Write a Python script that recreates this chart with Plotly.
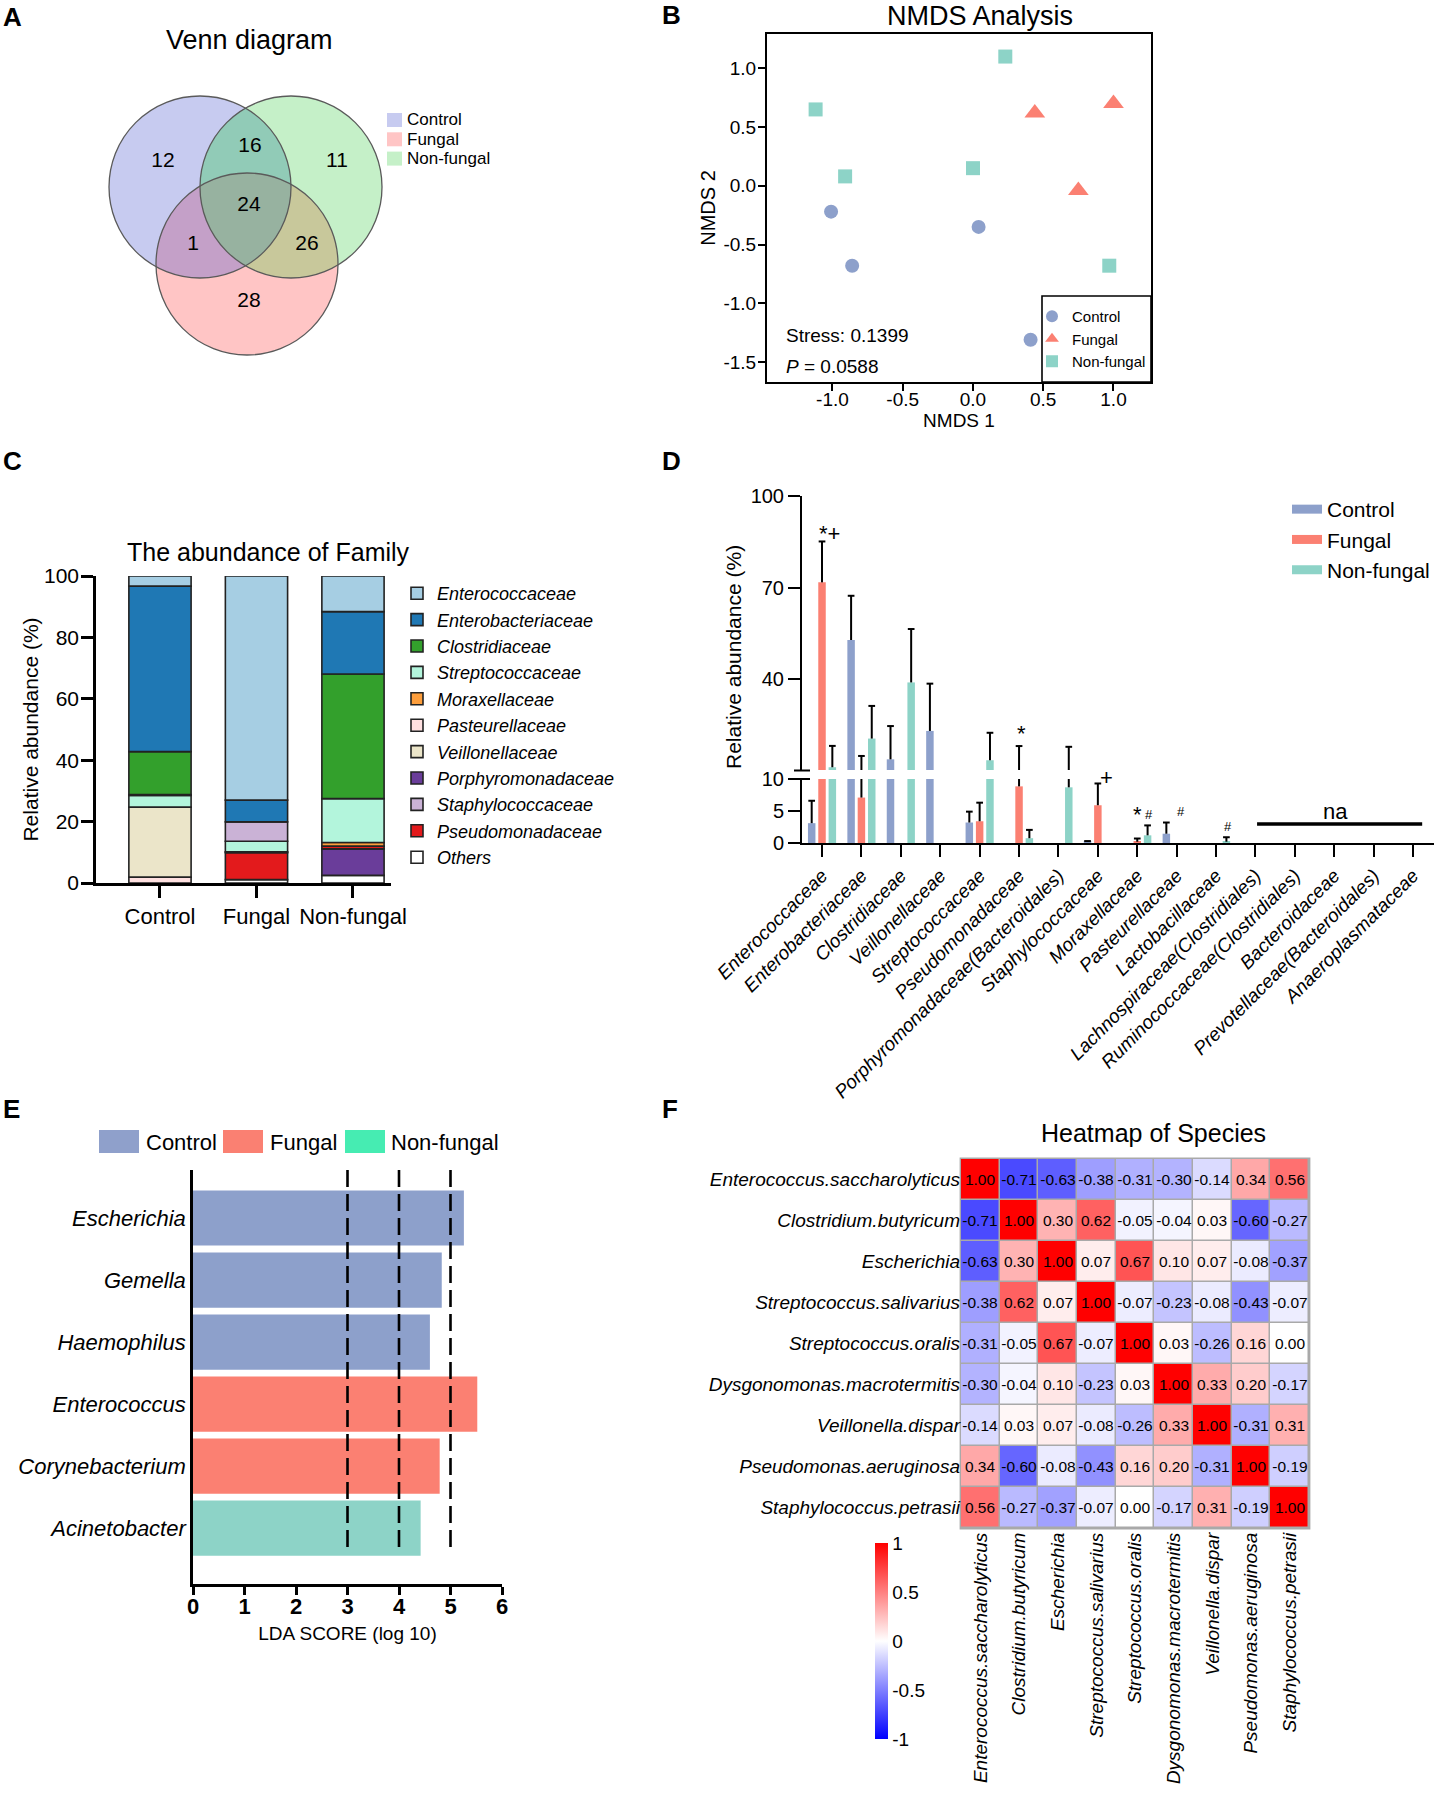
import numpy as np
import plotly.graph_objects as go

W, H = 1436, 1799
FONT = "Liberation Sans, Arial, Helvetica, sans-serif"


def px_x(x):
    return x / W


def px_y(y):
    return 1 - y / H


def dom_x(a, b):
    return [a / W, b / W]


def dom_y(top, bottom):
    return [1 - bottom / H, 1 - top / H]


# ======================= DATA =======================
# A  Venn diagram
venn_sets = ["Control", "Fungal", "Non-fungal"]
venn_region_keys = ["C", "CN", "N", "CNF", "CF", "NF", "F"]
venn_region_counts = [12, 16, 11, 24, 1, 26, 28]

# B  NMDS
nmds_control_x = [-1.01, -0.86, 0.04, 0.41]
nmds_control_y = [-0.22, -0.68, -0.35, -1.31]
nmds_fungal_x = [0.44, 1.00, 0.75]
nmds_fungal_y = [0.62, 0.70, -0.04]
nmds_nonfungal_x = [0.23, -1.12, -0.91, 0.00, 0.97]
nmds_nonfungal_y = [1.10, 0.65, 0.08, 0.15, -0.68]
nmds_xticks = [-1.0, -0.5, 0.0, 0.5, 1.0]
nmds_xtick_labels = ["-1.0", "-0.5", "0.0", "0.5", "1.0"]
nmds_yticks = [-1.5, -1.0, -0.5, 0.0, 0.5, 1.0]
nmds_ytick_labels = ["-1.5", "-1.0", "-0.5", "0.0", "0.5", "1.0"]
nmds_stress = "0.1399"
nmds_p = "0.0588"

# C  stacked family abundance (%)
c_groups = ["Control", "Fungal", "Non-fungal"]
c_families = ["Enterococcaceae", "Enterobacteriaceae", "Clostridiaceae", "Streptococcaceae",
              "Moraxellaceae", "Pasteurellaceae", "Veillonellaceae", "Porphyromonadaceae",
              "Staphylococcaceae", "Pseudomonadaceae", "Others"]
c_enterococcaceae = [3.3, 73.0, 11.6]
c_enterobacteriaceae = [53.9, 7.1, 20.3]
c_clostridiaceae = [14.0, 0.0, 40.6]
c_streptococcaceae = [3.8, 3.4, 14.3]
c_moraxellaceae = [0.0, 0.3, 1.2]
c_pasteurellaceae = [1.9, 0.0, 0.0]
c_veillonellaceae = [22.8, 0.0, 0.0]
c_porphyromonadaceae = [0.0, 0.0, 8.6]
c_staphylococcaceae = [0.3, 6.3, 0.0]
c_pseudomonadaceae = [0.0, 8.8, 0.9]
c_others = [0.0, 1.1, 2.5]
c_stack_order = ["Others", "Porphyromonadaceae", "Pseudomonadaceae", "Pasteurellaceae",
                 "Veillonellaceae", "Moraxellaceae", "Streptococcaceae", "Staphylococcaceae",
                 "Clostridiaceae", "Enterobacteriaceae", "Enterococcaceae"]
c_yticks = [0, 20, 40, 60, 80, 100]

# D  relative abundance per family (mean, SD)
d_families = ["Enterococcaceae", "Enterobacteriaceae", "Clostridiaceae", "Veillonellaceae",
              "Streptococcaceae", "Pseudomonadaceae", "Porphyromonadaceae(Bacteroidales)",
              "Staphylococcaceae", "Moraxellaceae", "Pasteurellaceae", "Lactobacillaceae",
              "Lachnospiraceae(Clostridiales)", "Ruminococcaceae(Clostridiales)",
              "Bacteroidaceae", "Prevotellaceae(Bacteroidales)", "Anaeroplasmataceae"]
d_control_mean = [3.1, 52.8, 13.7, 23.0, 3.2, None, None, 0.3, None, 1.45, None, None, None, None, None, None]
d_control_sd = [3.5, 14.5, 10.9, 15.5, 1.7, None, None, 0.0, None, 1.75, None, None, None, None, None, None]
d_fungal_mean = [71.7, 7.1, None, None, 3.4, 8.85, None, 5.9, 0.2, None, None, None, None, None, None, None]
d_fungal_sd = [13.4, 7.7, None, None, 2.9, 9.2, None, 3.4, 0.5, None, None, None, None, None, None, None]
d_nonfungal_mean = [11.1, 20.5, 38.9, None, 13.4, 0.75, 8.7, None, 1.2, None, 0.2, None, None, None, None, None]
d_nonfungal_sd = [7.0, 10.7, 17.5, None, 9.0, 1.3, 9.1, None, 1.55, None, 0.7, None, None, None, None, None]
d_low_ticks = [0, 5, 10]
d_high_ticks = [40, 70, 100]
d_mark_text = ["*+", "*", "+", "*", "#", "#", "#"]
d_mark_x = [0.19, 5.05, 7.23, 8.0, 8.3, 9.11, 10.3]
d_mark_ypx = [533, 733, 777, 815, 815, 812, 827]
d_mark_size = [22, 22, 22, 22, 13, 13, 13]

# E  LEfSe LDA scores
e_genera = ["Escherichia", "Gemella", "Haemophilus", "Enterococcus", "Corynebacterium", "Acinetobacter"]
e_lda = [5.26, 4.83, 4.60, 5.52, 4.79, 4.42]
e_group = ["Control", "Control", "Control", "Fungal", "Fungal", "Non-fungal"]
e_thresholds = [3, 4, 5]

# F  correlation heatmap
f_species = ["Enterococcus.saccharolyticus", "Clostridium.butyricum", "Escherichia",
             "Streptococcus.salivarius", "Streptococcus.oralis", "Dysgonomonas.macrotermitis",
             "Veillonella.dispar", "Pseudomonas.aeruginosa", "Staphylococcus.petrasii"]
f_r1 = [1.00, -0.71, -0.63, -0.38, -0.31, -0.30, -0.14, 0.34, 0.56]
f_r2 = [-0.71, 1.00, 0.30, 0.62, -0.05, -0.04, 0.03, -0.60, -0.27]
f_r3 = [-0.63, 0.30, 1.00, 0.07, 0.67, 0.10, 0.07, -0.08, -0.37]
f_r4 = [-0.38, 0.62, 0.07, 1.00, -0.07, -0.23, -0.08, -0.43, -0.07]
f_r5 = [-0.31, -0.05, 0.67, -0.07, 1.00, 0.03, -0.26, 0.16, 0.00]
f_r6 = [-0.30, -0.04, 0.10, -0.23, 0.03, 1.00, 0.33, 0.20, -0.17]
f_r7 = [-0.14, 0.03, 0.07, -0.08, -0.26, 0.33, 1.00, -0.31, 0.31]
f_r8 = [0.34, -0.60, -0.08, -0.43, 0.16, 0.20, -0.31, 1.00, -0.19]
f_r9 = [0.56, -0.27, -0.37, -0.07, 0.00, -0.17, 0.31, -0.19, 1.00]
f_cb_ticks = [-1, -0.5, 0, 0.5, 1]
f_cb_labels = ["-1", "-0.5", "0", "0.5", "1"]

# ======================= STYLE =======================
grp_color = {"Control": "#8da0cb", "Fungal": "#fb8072", "Non-fungal": "#8dd3c7"}
c_colors = {"Enterococcaceae": "#a6cee3", "Enterobacteriaceae": "#1f78b4", "Clostridiaceae": "#33a02c",
            "Streptococcaceae": "#b3f5dc", "Moraxellaceae": "#fd9e3c", "Pasteurellaceae": "#ffe0e0",
            "Veillonellaceae": "#ebe5c9", "Porphyromonadaceae": "#6a3d9a", "Staphylococcaceae": "#cab2d6",
            "Pseudomonadaceae": "#e31a1c", "Others": "#ffffff"}
c_values = {"Enterococcaceae": c_enterococcaceae, "Enterobacteriaceae": c_enterobacteriaceae,
            "Clostridiaceae": c_clostridiaceae, "Streptococcaceae": c_streptococcaceae,
            "Moraxellaceae": c_moraxellaceae, "Pasteurellaceae": c_pasteurellaceae,
            "Veillonellaceae": c_veillonellaceae, "Porphyromonadaceae": c_porphyromonadaceae,
            "Staphylococcaceae": c_staphylococcaceae, "Pseudomonadaceae": c_pseudomonadaceae,
            "Others": c_others}

fig = go.Figure()
shapes = []
annotations = []

# ---------------- A: Venn ----------------
venn_centers = {"C": (200, 187), "N": (291, 187), "F": (247, 264)}
venn_r = 91
venn_fill = {"C": "#c7cbf0", "N": "#c5f0c8", "F": "#ffc5c5", "CN": "#91cbb7",
             "CF": "#c4a0c8", "NF": "#c8c89b", "CNF": "#97b2a0"}
venn_label_pos = {"C": (163, 162), "CN": (250, 147), "N": (337, 162), "CNF": (249, 206),
                  "CF": (193, 245), "NF": (307, 245), "F": (249, 302)}


def disc_intersection_path(keys):
    pts = []
    t = np.linspace(0, 2 * np.pi, 1440, endpoint=False)
    for k in keys:
        cx, cy = venn_centers[k]
        xs = cx + venn_r * np.cos(t)
        ys = cy + venn_r * np.sin(t)
        mask = np.ones_like(xs, dtype=bool)
        for o in keys:
            if o == k:
                continue
            ox, oy = venn_centers[o]
            mask &= (xs - ox) ** 2 + (ys - oy) ** 2 <= venn_r ** 2 + 1e-6
        pts.append(np.c_[xs[mask], ys[mask]])
    P = np.vstack(pts)
    c = P.mean(axis=0)
    P = P[np.argsort(np.arctan2(P[:, 1] - c[1], P[:, 0] - c[0]))]
    return "M " + " L ".join(f"{x:.2f},{y:.2f}" for x, y in P) + " Z"


for k in ["C", "N", "F"]:
    cx, cy = venn_centers[k]
    shapes.append(dict(type="circle", xref="x", yref="y", x0=cx - venn_r, x1=cx + venn_r,
                       y0=cy - venn_r, y1=cy + venn_r, fillcolor=venn_fill[k],
                       line=dict(width=0), layer="below"))
for k in ["CN", "CF", "NF", "CNF"]:
    shapes.append(dict(type="path", xref="x", yref="y", path=disc_intersection_path(list(k)),
                       fillcolor=venn_fill[k], line=dict(width=0), layer="below"))
for k in ["C", "N", "F"]:
    cx, cy = venn_centers[k]
    shapes.append(dict(type="circle", xref="x", yref="y", x0=cx - venn_r, x1=cx + venn_r,
                       y0=cy - venn_r, y1=cy + venn_r, fillcolor="rgba(0,0,0,0)",
                       line=dict(color="#5a5a5a", width=1.3), layer="below"))

fig.add_trace(go.Scatter(
    x=[venn_label_pos[k][0] for k in venn_region_keys],
    y=[venn_label_pos[k][1] for k in venn_region_keys],
    text=[str(v) for v in venn_region_counts], mode="text",
    textfont=dict(size=21, color="black", family=FONT),
    showlegend=False, hoverinfo="skip", xaxis="x", yaxis="y"))

venn_leg_fill = {"Control": "#c7cbf0", "Fungal": "#ffc5c5", "Non-fungal": "#c5f0c8"}
for i, s in enumerate(venn_sets):
    yc = 120 + 19.3 * i
    shapes.append(dict(type="rect", xref="paper", yref="paper", x0=px_x(387), x1=px_x(402),
                       y0=px_y(yc + 7), y1=px_y(yc - 7), fillcolor=venn_leg_fill[s], line=dict(width=0)))
    annotations.append(dict(text=s, xref="paper", yref="paper", x=px_x(405), y=px_y(yc),
                            xanchor="left", yanchor="middle", showarrow=False,
                            font=dict(size=17, color="black")))
annotations.append(dict(text="Venn diagram", xref="paper", yref="paper", x=px_x(249), y=px_y(40),
                        xanchor="center", yanchor="middle", showarrow=False, font=dict(size=27)))

# ---------------- B: NMDS ----------------
fig.add_trace(go.Scatter(x=nmds_control_x, y=nmds_control_y, mode="markers", name="Control",
                         marker=dict(symbol="circle", size=14, color=grp_color["Control"]),
                         xaxis="x2", yaxis="y2", legend="legend"))
fig.add_trace(go.Scatter(x=nmds_fungal_x, y=nmds_fungal_y, mode="markers", name="Fungal",
                         marker=dict(symbol="triangle-up", size=18, color=grp_color["Fungal"]),
                         xaxis="x2", yaxis="y2", legend="legend"))
fig.add_trace(go.Scatter(x=nmds_nonfungal_x, y=nmds_nonfungal_y, mode="markers", name="Non-fungal",
                         marker=dict(symbol="square", size=14, color=grp_color["Non-fungal"]),
                         xaxis="x2", yaxis="y2", legend="legend"))
shapes.append(dict(type="rect", xref="paper", yref="paper", x0=px_x(1042), x1=px_x(1151),
                   y0=px_y(382), y1=px_y(296), line=dict(color="black", width=1.6),
                   fillcolor="rgba(0,0,0,0)"))
annotations.append(dict(text="NMDS Analysis", xref="paper", yref="paper", x=px_x(980), y=px_y(16),
                        xanchor="center", yanchor="middle", showarrow=False, font=dict(size=27)))
annotations.append(dict(text="Stress: " + nmds_stress, xref="paper", yref="paper", x=px_x(784),
                        y=px_y(335), xanchor="left", yanchor="middle", showarrow=False,
                        font=dict(size=19)))
annotations.append(dict(text="<i>P</i> = " + nmds_p, xref="paper", yref="paper", x=px_x(784),
                        y=px_y(367), xanchor="left", yanchor="middle", showarrow=False,
                        font=dict(size=19)))

# ---------------- C: stacked bars ----------------
cum = np.zeros(len(c_groups))
for fam in c_stack_order:
    vals = np.array(c_values[fam], dtype=float)
    fig.add_trace(go.Bar(
        x=c_groups, y=[v if v > 0 else None for v in vals], base=cum.copy(),
        name=fam, marker=dict(color=c_colors[fam], line=dict(color="#222222", width=1.6)),
        width=0.645, offset=-0.3225, xaxis="x3", yaxis="y3", legend="legend2",
        legendrank=c_families.index(fam) + 1, hoverinfo="skip"))
    cum += vals
annotations.append(dict(text="The abundance of Family", xref="paper", yref="paper", x=px_x(268),
                        y=px_y(552), xanchor="center", yanchor="middle", showarrow=False,
                        font=dict(size=25)))

# ---------------- D: grouped bars with broken axis ----------------
d_pos = np.arange(len(d_families))
d_series = [("Control", d_control_mean, d_control_sd, -0.262),
            ("Fungal", d_fungal_mean, d_fungal_sd, 0.0),
            ("Non-fungal", d_nonfungal_mean, d_nonfungal_sd, 0.262)]
bw_d = 0.19
cap_half = 0.085
for name, mean, sd, off in d_series:
    for ya in ["y4", "y5"]:
        fig.add_trace(go.Bar(x=d_pos, y=mean, width=bw_d, offset=off - bw_d / 2,
                             marker=dict(color=grp_color[name], line=dict(width=0)),
                             showlegend=False, xaxis="x4", yaxis=ya, hoverinfo="skip"))
    ex, ey = [], []
    for p, m, s in zip(d_pos, mean, sd):
        if m is None or s is None:
            continue
        xc = p + off
        ex += [xc, xc, None, xc - cap_half, xc + cap_half, None]
        ey += [m, m + s, None, m + s, m + s, None]
    for ya in ["y4", "y5"]:
        fig.add_trace(go.Scatter(x=ex, y=ey, mode="lines", line=dict(color="black", width=2),
                                 showlegend=False, xaxis="x4", yaxis=ya, hoverinfo="skip"))
    fig.add_trace(go.Scatter(x=[None], y=[None], mode="lines", name=name,
                             line=dict(color=grp_color[name], width=9), legend="legend3",
                             legendgroup="d_" + name, xaxis="x4", yaxis="y4"))

for t, xm, ypx, fs in zip(d_mark_text, d_mark_x, d_mark_ypx, d_mark_size):
    annotations.append(dict(text=t, xref="x4", yref="paper", x=xm, y=px_y(ypx), xanchor="center",
                            yanchor="middle", showarrow=False, font=dict(size=fs)))
annotations.append(dict(text="na", xref="x4", yref="paper", x=13.02, y=px_y(812), xanchor="center",
                        yanchor="middle", showarrow=False, font=dict(size=22)))
shapes.append(dict(type="line", xref="x4", yref="paper", x0=11.04, x1=15.23, y0=px_y(824),
                   y1=px_y(824), line=dict(color="black", width=3.5)))
for yb in [770.5, 779]:
    shapes.append(dict(type="line", xref="paper", yref="paper", x0=px_x(794), x1=px_x(810),
                       y0=px_y(yb), y1=px_y(yb), line=dict(color="black", width=2)))
annotations.append(dict(text="Relative abundance (%)", xref="paper", yref="paper", x=px_x(733),
                        y=px_y(657), textangle=-90, xanchor="center", yanchor="middle",
                        showarrow=False, font=dict(size=21)))

# ---------------- E: LDA ----------------
for g in ["Control", "Fungal", "Non-fungal"]:
    gx = [v for v, gg in zip(e_lda, e_group) if gg == g]
    gy = [n for n, gg in zip(e_genera, e_group) if gg == g]
    fig.add_trace(go.Bar(x=gx, y=gy, orientation="h", width=0.89, marker=dict(color=grp_color[g],
                         line=dict(width=0)), showlegend=False, xaxis="x6", yaxis="y6",
                         hoverinfo="skip"))
for th in e_thresholds:
    shapes.append(dict(type="line", xref="x6", yref="y6", x0=th, x1=th, y0=-0.774, y1=5.31,
                       line=dict(color="black", width=2.6, dash="17px,7px"), layer="above"))
e_leg_color = {"Control": "#8fa0cb", "Fungal": "#fa8072", "Non-fungal": "#46ecb2"}
for g, x0, xt in [("Control", 99, 144), ("Fungal", 223, 268), ("Non-fungal", 345, 389)]:
    shapes.append(dict(type="rect", xref="paper", yref="paper", x0=px_x(x0), x1=px_x(x0 + 40),
                       y0=px_y(1153), y1=px_y(1130), fillcolor=e_leg_color[g], line=dict(width=0)))
    annotations.append(dict(text=g, xref="paper", yref="paper", x=px_x(xt), y=px_y(1142),
                            xanchor="left", yanchor="middle", showarrow=False, font=dict(size=22)))

# ---------------- F: heatmap ----------------
f_z = [f_r1, f_r2, f_r3, f_r4, f_r5, f_r6, f_r7, f_r8, f_r9]
f_text = [[f"{v:.2f}" for v in row] for row in f_z]
fig.add_trace(go.Heatmap(
    z=f_z, x=f_species, y=f_species, text=f_text, texttemplate="%{text}",
    textfont=dict(size=15.5, color="black", family=FONT),
    colorscale=[[0, "#0000ff"], [0.5, "#ffffff"], [1, "#ff0000"]], zmin=-1, zmax=1,
    xgap=1.5, ygap=1.5, xaxis="x7", yaxis="y7", hoverinfo="skip",
    colorbar=dict(x=px_x(875), xanchor="left", y=px_y(1739), yanchor="bottom", len=196,
                  lenmode="pixels", thickness=13, thicknessmode="pixels", xpad=0, ypad=0,
                  outlinewidth=0, tickvals=f_cb_ticks, ticktext=f_cb_labels, ticks="",
                  tickfont=dict(size=19, color="black"))))
shapes.append(dict(type="rect", xref="x7 domain", yref="y7 domain", x0=-0.004, x1=1.004,
                   y0=-0.004, y1=1.004, fillcolor="#a9a9a9", line=dict(width=0), layer="below"))
annotations.append(dict(text="Heatmap of Species", xref="paper", yref="paper", x=px_x(1153),
                        y=px_y(1133), xanchor="center", yanchor="middle", showarrow=False,
                        font=dict(size=25)))

# ---------------- panel letters ----------------
for letter, x, y in [("A", 1, 17), ("B", 660, 15), ("C", 1, 461), ("D", 660, 461),
                     ("E", 1, 1109), ("F", 660, 1109)]:
    annotations.append(dict(text=f"<b>{letter}</b>", xref="paper", yref="paper", x=px_x(x),
                            y=px_y(y), xanchor="left", yanchor="middle", showarrow=False,
                            font=dict(size=26)))

# ======================= LAYOUT =======================
hidden = dict(visible=False, showgrid=False, zeroline=False, fixedrange=True, automargin=False)
line_ax = dict(showline=True, linecolor="black", showgrid=False, zeroline=False, ticks="outside",
               tickcolor="black", automargin=False)

fig.update_layout(
    template="none",
    width=W, height=H, margin=dict(l=0, r=0, t=0, b=0, pad=0, autoexpand=False), autosize=False,
    paper_bgcolor="white", plot_bgcolor="white", barmode="overlay",
    font=dict(family=FONT, color="black"),
    showlegend=True,
    xaxis=dict(domain=dom_x(0, 700), range=[0, 700], anchor="y", **hidden),
    yaxis=dict(domain=dom_y(0, 440), range=[440, 0], anchor="x", **hidden),
    xaxis2=dict(domain=dom_x(767, 1151), range=[-1.466, 1.267], anchor="y2", mirror=True,
                linewidth=2, ticklen=7, tickwidth=2, tickvals=nmds_xticks, ticktext=nmds_xtick_labels,
                tickfont=dict(size=19), ticklabelstandoff=-8,
                title=dict(text="NMDS 1", font=dict(size=19), standoff=0), **line_ax),
    yaxis2=dict(domain=dom_y(34, 382), range=[-1.67, 1.292], anchor="x2", mirror=True,
                linewidth=2, ticklen=7, tickwidth=2, tickvals=nmds_yticks, ticktext=nmds_ytick_labels,
                tickfont=dict(size=19), ticklabelstandoff=-2,
                title=dict(text="NMDS 2", font=dict(size=20), standoff=2), **line_ax),
    xaxis3=dict(domain=dom_x(96, 391), type="category", categoryorder="array",
                categoryarray=c_groups, range=[-0.663, 2.394], anchor="y3", linewidth=2.5,
                ticklen=12, tickwidth=2.5, tickangle=0, tickfont=dict(size=22), **line_ax),
    yaxis3=dict(domain=dom_y(576, 883), range=[0, 100], anchor="x3", linewidth=2.5,
                ticklen=12, tickwidth=2.5, tickvals=c_yticks, tickfont=dict(size=21),
                ticklabelstandoff=-2,
                title=dict(text="Relative abundance (%)", font=dict(size=21), standoff=0),
                **line_ax),
    xaxis4=dict(domain=dom_x(802, 1434), range=[-0.508, 15.53], anchor="y4", linewidth=2,
                ticklen=12, tickwidth=2, tickvals=list(d_pos), ticktext=d_families, tickangle=-45,
                tickfont=dict(size=19, style="italic"), **line_ax),
    yaxis4=dict(domain=dom_y(779, 843), range=[0, 10], anchor="x4", linewidth=2, ticklen=12,
                tickwidth=2, tickvals=d_low_ticks, tickfont=dict(size=20), **line_ax),
    yaxis5=dict(domain=dom_y(496, 770), range=[10.2, 100], anchor="x4", linewidth=2, ticklen=12,
                tickwidth=2, tickvals=d_high_ticks, tickfont=dict(size=20), **line_ax),
    xaxis6=dict(domain=dom_x(193, 502), range=[0, 6], anchor="y6", linewidth=2.6, ticklen=8,
                tickwidth=2.6, dtick=1, tickfont=dict(size=22, weight="bold"), ticklabelstandoff=-7,
                title=dict(text="LDA SCORE (log 10)", font=dict(size=19), standoff=9), **line_ax),
    yaxis6=dict(domain=dom_y(1170, 1584), type="category", categoryorder="array",
                categoryarray=e_genera, range=[5.9, -0.774], anchor="x6", showline=True,
                linecolor="black", linewidth=2.6, ticks="", showgrid=False, zeroline=False,
                automargin=False, tickfont=dict(size=22, style="italic")),
    xaxis7=dict(domain=dom_x(961, 1309), type="category", anchor="y7", ticks="", showgrid=False,
                zeroline=False, showline=False, tickangle=-90, automargin=False,
                tickfont=dict(size=19, style="italic")),
    yaxis7=dict(domain=dom_y(1159, 1528), type="category", anchor="x7", ticks="", showgrid=False,
                zeroline=False, showline=False, autorange="reversed", automargin=False,
                tickfont=dict(size=19, style="italic")),
    legend=dict(x=px_x(1032), y=px_y(300), xanchor="left", yanchor="top", font=dict(size=15),
                bgcolor="rgba(0,0,0,0)", borderwidth=0, itemsizing="constant"),
    legend2=dict(x=px_x(397), y=px_y(575), xanchor="left", yanchor="top", traceorder="normal",
                 font=dict(size=18, style="italic"), bgcolor="rgba(0,0,0,0)", borderwidth=0),
    legend3=dict(x=px_x(1287), y=px_y(489), xanchor="left", yanchor="top", traceorder="normal",
                 font=dict(size=21), bgcolor="rgba(0,0,0,0)", borderwidth=0, tracegroupgap=6),
    shapes=shapes,
    annotations=annotations,
)

fig.write_html("out.html", config={"displayModeBar": False},
               post_script="document.body.style.margin='0px';")
